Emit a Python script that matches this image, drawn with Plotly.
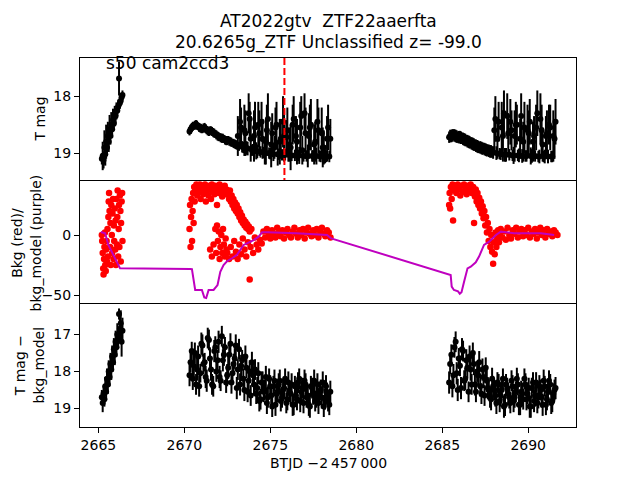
import plotly.graph_objects as go
from plotly.subplots import make_subplots

# ---- light curve (T mag), 3 orbits ----
t1 = [2665.20, 2665.25, 2665.30, 2665.35, 2665.40, 2665.45, 2665.50, 2665.55, 2665.60, 2665.65,
      2665.70, 2665.75, 2665.80, 2665.85, 2665.90, 2665.95, 2666.00, 2666.05, 2666.10, 2666.15,
      2666.20, 2666.25, 2666.30, 2666.35, 2666.40]
mag1 = [19.10, 19.05, 19.12, 18.90, 19.02, 18.80, 18.90, 18.70, 18.80, 18.58,
        18.70, 18.50, 18.58, 18.42, 18.48, 18.35, 18.35, 18.26, 18.25, 18.18,
        17.69, 18.12, 18.08, 18.02, 17.98]
err1 = [0.10, 0.25, 0.15, 0.30, 0.20, 0.30, 0.15, 0.25, 0.18, 0.25,
        0.15, 0.22, 0.15, 0.20, 0.12, 0.18, 0.12, 0.15, 0.10, 0.12,
        0.30, 0.10, 0.10, 0.08, 0.08]
diff1 = [18.70, 18.85, 18.60, 18.75, 18.40, 18.55, 18.20, 18.35, 18.00, 18.15,
         17.80, 17.95, 17.60, 17.75, 17.40, 17.55, 17.20, 17.35, 17.00, 17.10,
         16.45, 16.85, 16.70, 17.20, 16.90]
derr1 = [0.20, 0.25, 0.22, 0.20, 0.25, 0.22, 0.28, 0.25, 0.30, 0.25,
         0.30, 0.28, 0.30, 0.25, 0.30, 0.28, 0.30, 0.25, 0.30, 0.28,
         0.15, 0.30, 0.35, 0.40, 0.35]

t2 = [2670.30, 2670.43, 2670.55, 2670.68, 2670.80, 2670.93, 2671.05, 2671.18, 2671.30, 2671.43,
      2671.55, 2671.68, 2671.80, 2671.93, 2672.05, 2672.18, 2672.30, 2672.43, 2672.55, 2672.68,
      2672.80, 2672.93, 2673.05, 2673.18, 2673.30, 2673.43, 2673.55, 2673.68, 2673.80, 2673.93,
      2674.05, 2674.18, 2674.30, 2674.43, 2674.55, 2674.68, 2674.80, 2674.93, 2675.05, 2675.18,
      2675.30, 2675.43, 2675.55, 2675.68, 2675.80, 2675.93, 2676.05, 2676.18, 2676.30, 2676.43,
      2676.55, 2676.68, 2676.80, 2676.93, 2677.05, 2677.18, 2677.30, 2677.43, 2677.55, 2677.68,
      2677.80, 2677.93, 2678.05, 2678.18, 2678.30, 2678.43]
mag2 = [18.62, 18.55, 18.52, 18.50, 18.53, 18.56, 18.58, 18.55, 18.60, 18.62,
        18.60, 18.64, 18.66, 18.70, 18.72, 18.74, 18.75, 18.78, 18.77, 18.80,
        18.82, 18.84, 18.86, 18.88, 18.55, 18.90, 18.65, 18.92, 18.40, 18.95,
        18.70, 18.96, 18.50, 18.98, 18.75, 19.00, 18.60, 19.00, 18.85, 19.02,
        18.55, 19.02, 18.80, 19.03, 18.70, 18.72, 19.03, 18.90, 18.50, 19.04,
        18.80, 19.04, 18.35, 19.05, 18.65, 19.05, 18.55, 19.05, 18.85, 19.05,
        18.60, 19.06, 18.90, 19.06, 18.75, 19.06]
err2 = [0.07, 0.08, 0.07, 0.08, 0.07, 0.08, 0.07, 0.08, 0.07, 0.08,
        0.07, 0.08, 0.07, 0.08, 0.07, 0.08, 0.07, 0.08, 0.07, 0.08,
        0.07, 0.08, 0.08, 0.08, 0.35, 0.10, 0.40, 0.12, 0.30, 0.10,
        0.45, 0.15, 0.40, 0.10, 0.35, 0.20, 0.45, 0.10, 0.40, 0.12,
        0.35, 0.20, 0.40, 0.10, 0.45, 0.30, 0.12, 0.40, 0.35, 0.10,
        0.40, 0.15, 0.35, 0.10, 0.45, 0.20, 0.40, 0.10, 0.35, 0.15,
        0.40, 0.10, 0.35, 0.12, 0.40, 0.10]
diff2 = [18.10, 17.45, 17.85, 18.35, 17.60, 18.05, 17.30, 17.75, 18.25, 17.15,
         17.95, 18.40, 17.35, 17.70, 18.15, 17.05, 17.55, 18.30, 17.90, 17.25,
         18.05, 17.65, 18.45, 17.40, 17.85, 18.20, 17.60, 18.55, 18.00, 17.75,
         18.35, 18.60, 18.05, 18.75, 18.30, 18.50, 18.85, 18.20, 18.65, 18.40,
         18.90, 18.55, 18.25, 18.70, 18.45, 18.85, 18.30, 18.60, 18.90, 18.40,
         18.75, 18.20, 18.55, 18.85, 18.35, 18.65, 18.95, 18.45, 18.25, 18.70,
         18.85, 18.50, 18.30, 18.75, 18.60, 18.90]
derr2 = [0.30, 0.25, 0.30, 0.28, 0.30, 0.25, 0.30, 0.25, 0.30, 0.28] + \
        [0.30, 0.28] * 28

# second, interleaved cadence of orbit 2
t2b = [2670.36, 2670.49, 2670.61, 2670.74, 2670.86, 2670.99, 2671.11, 2671.24, 2671.36, 2671.49,
       2671.61, 2671.74, 2671.86, 2671.99, 2672.11, 2672.24, 2672.36, 2672.49, 2672.61, 2672.74,
       2672.86, 2672.99, 2673.11, 2673.24, 2673.36, 2673.49, 2673.61, 2673.74, 2673.86, 2673.99,
       2674.11, 2674.24, 2674.36, 2674.49, 2674.61, 2674.74, 2674.86, 2674.99, 2675.11, 2675.24,
       2675.36, 2675.49, 2675.61, 2675.74, 2675.86, 2675.99, 2676.11, 2676.24, 2676.36, 2676.49,
       2676.61, 2676.74, 2676.86, 2676.99, 2677.11, 2677.24, 2677.36, 2677.49, 2677.61, 2677.74,
       2677.86, 2677.99, 2678.11, 2678.24, 2678.36, 2678.49]
mag2b = [18.58, 18.53, 18.51, 18.51, 18.55, 18.57, 18.56, 18.57, 18.61, 18.61,
         18.62, 18.65, 18.68, 18.71, 18.73, 18.74, 18.77, 18.78, 18.79, 18.81,
         18.83, 18.85, 18.70, 18.45, 18.89, 18.60, 18.91, 18.30, 18.75, 18.94,
         18.55, 18.97, 18.65, 18.45, 18.99, 18.80, 18.40, 19.01, 18.65, 18.90,
         18.50, 19.02, 18.75, 18.45, 19.03, 18.60, 18.85, 19.04, 18.40, 18.70,
         19.04, 18.55, 18.95, 18.30, 19.05, 18.70, 18.50, 19.05, 18.80, 18.45,
         19.05, 18.65, 18.90, 19.06, 18.55, 18.75]
err2b = [0.08] * 22 + \
        [0.35, 0.40, 0.10, 0.45, 0.12, 0.35, 0.40, 0.10, 0.45, 0.12,
         0.40, 0.35, 0.10, 0.40, 0.45, 0.10, 0.35, 0.20, 0.40, 0.10,
         0.35, 0.45, 0.10, 0.40, 0.30, 0.10, 0.40, 0.35, 0.10, 0.45,
         0.25, 0.35, 0.10, 0.40, 0.45, 0.10, 0.35, 0.40, 0.10, 0.45,
         0.30, 0.10, 0.40, 0.35]
diff2b = [17.75, 18.20, 17.50, 17.95, 18.40, 17.25, 17.80, 18.15, 17.10, 17.65,
          18.35, 17.45, 18.00, 17.20, 18.25, 17.70, 17.35, 18.10, 17.55, 18.30,
          17.80, 17.30, 17.95, 18.35, 17.70, 18.50, 17.90, 18.25, 18.65, 18.10,
          17.95, 18.45, 18.80, 18.30, 18.55, 18.15, 18.70, 18.40, 18.95, 18.25,
          18.60, 18.35, 18.80, 18.50, 18.20, 18.75, 18.55, 18.35, 18.90, 18.65,
          18.30, 18.80, 18.45, 18.25, 18.70, 18.90, 18.40, 18.60, 18.80, 18.35,
          18.55, 18.70, 18.95, 18.40, 18.80, 18.55]
derr2b = [0.28, 0.30] * 33

t3 = [2685.40, 2685.53, 2685.65, 2685.78, 2685.90, 2686.03, 2686.15, 2686.28, 2686.40, 2686.53,
      2686.65, 2686.78, 2686.90, 2687.03, 2687.15, 2687.28, 2687.40, 2687.53, 2687.65, 2687.78,
      2687.90, 2688.03, 2688.15, 2688.28, 2688.40, 2688.53, 2688.65, 2688.78, 2688.90, 2689.03,
      2689.15, 2689.28, 2689.40, 2689.53, 2689.65, 2689.78, 2689.90, 2690.03, 2690.15, 2690.28,
      2690.40, 2690.53, 2690.65, 2690.78, 2690.90, 2691.03, 2691.15, 2691.28, 2691.40, 2691.53]
mag3 = [18.72, 18.70, 18.68, 18.70, 18.72, 18.72, 18.74, 18.76, 18.78, 18.80,
        18.82, 18.84, 18.86, 18.88, 18.90, 18.91, 18.92, 18.94, 18.95, 18.97,
        18.98, 18.60, 19.00, 18.45, 19.02, 18.70, 19.03, 18.35, 19.03, 18.60,
        19.04, 18.50, 19.04, 18.75, 19.05, 18.55, 19.05, 18.65, 19.05, 18.80,
        19.05, 18.30, 19.06, 18.60, 19.06, 18.70, 19.06, 18.55, 19.06, 18.75]
err3 = [0.10, 0.11, 0.10, 0.11, 0.10, 0.11, 0.10, 0.11, 0.10, 0.11,
        0.10, 0.11, 0.10, 0.11, 0.10, 0.11, 0.10, 0.11, 0.10, 0.11,
        0.10, 0.40, 0.12, 0.35, 0.10, 0.45, 0.12, 0.40, 0.10, 0.35,
        0.15, 0.40, 0.10, 0.35, 0.12, 0.45, 0.10, 0.40, 0.15, 0.35,
        0.10, 0.40, 0.12, 0.45, 0.10, 0.35, 0.12, 0.40, 0.10, 0.35]
diff3 = [18.30, 17.55, 18.10, 17.20, 18.50, 17.85, 17.40, 18.25, 17.70, 18.55,
         17.95, 17.50, 18.35, 18.00, 17.75, 18.60, 18.15, 17.90, 18.45, 18.70,
         18.20, 18.50, 18.85, 18.35, 18.65, 18.20, 18.90, 18.45, 18.70, 18.25,
         18.80, 18.55, 18.35, 18.90, 18.60, 18.20, 18.75, 18.45, 18.95, 18.30,
         18.65, 18.85, 18.40, 18.70, 18.25, 18.90, 18.55, 18.35, 18.80, 18.50]
derr3 = [0.30, 0.28] * 25

# second, interleaved cadence of orbit 3
t3b = [2685.46, 2685.59, 2685.71, 2685.84, 2685.96, 2686.09, 2686.21, 2686.34, 2686.46, 2686.59,
       2686.71, 2686.84, 2686.96, 2687.09, 2687.21, 2687.34, 2687.46, 2687.59, 2687.71, 2687.84,
       2687.96, 2688.09, 2688.21, 2688.34, 2688.46, 2688.59, 2688.71, 2688.84, 2688.96, 2689.09,
       2689.21, 2689.34, 2689.46, 2689.59, 2689.71, 2689.84, 2689.96, 2690.09, 2690.21, 2690.34,
       2690.46, 2690.59, 2690.71, 2690.84, 2690.96, 2691.09, 2691.21, 2691.34, 2691.46, 2691.59]
mag3b = [18.70, 18.69, 18.69, 18.71, 18.72, 18.73, 18.75, 18.77, 18.79, 18.81,
         18.83, 18.85, 18.87, 18.89, 18.90, 18.92, 18.93, 18.95, 18.96, 18.97,
         18.99, 18.40, 18.75, 19.01, 18.55, 18.30, 19.03, 18.65, 18.45, 19.04,
         18.70, 18.50, 19.04, 18.35, 18.80, 19.05, 18.60, 18.45, 19.05, 18.70,
         18.55, 19.06, 18.40, 18.85, 19.06, 18.65, 18.50, 19.06, 18.70, 18.45]
err3b = [0.11] * 21 + \
        [0.40, 0.35, 0.10, 0.45, 0.40, 0.12, 0.35, 0.40, 0.10, 0.45,
         0.35, 0.12, 0.40, 0.35, 0.10, 0.45, 0.40, 0.12, 0.35, 0.40,
         0.10, 0.45, 0.30, 0.12, 0.40, 0.35, 0.10, 0.45, 0.40]
diff3b = [17.80, 18.40, 17.35, 18.05, 17.65, 18.45, 17.45, 18.20, 17.90, 17.60,
          18.35, 17.80, 18.55, 18.10, 18.40, 17.95, 18.65, 18.25, 18.50, 18.75,
          18.40, 18.65, 18.30, 18.80, 18.50, 18.95, 18.35, 18.60, 18.85, 18.40,
          18.70, 18.20, 18.90, 18.55, 18.75, 18.35, 18.60, 18.95, 18.45, 18.80,
          18.30, 18.70, 18.50, 18.90, 18.40, 18.75, 18.25, 18.85, 18.60, 18.45]
derr3b = [0.28, 0.30] * 25

# ---- background (red points) ----
bkg_t = [2665.20, 2665.22, 2665.25, 2665.28, 2665.30, 2665.33, 2665.35, 2665.38, 2665.40, 2665.43,
         2665.45, 2665.48, 2665.50, 2665.53, 2665.55, 2665.58, 2665.60, 2665.62, 2665.65, 2665.68,
         2665.70, 2665.72, 2665.75, 2665.78, 2665.80, 2665.82, 2665.85, 2665.88, 2665.90, 2665.92,
         2665.95, 2665.98, 2666.00, 2666.02, 2666.05, 2666.08, 2666.10, 2666.12, 2666.15, 2666.18,
         2666.20, 2666.22, 2666.25, 2666.28, 2666.30, 2666.32, 2666.35, 2666.38, 2666.40,
         2670.30, 2670.33, 2670.36, 2670.39, 2670.42, 2670.45, 2670.48, 2670.51, 2670.54, 2670.57,
         2670.60, 2670.65, 2670.70, 2670.75, 2670.80, 2670.85, 2670.90, 2670.95, 2671.00, 2671.05,
         2671.10, 2671.15, 2671.20, 2671.25, 2671.30, 2671.35, 2671.40, 2671.45, 2671.50, 2671.55,
         2671.60, 2671.65, 2671.70, 2671.75, 2671.80, 2671.85, 2671.90, 2671.95, 2672.00, 2672.05,
         2672.10, 2672.15, 2672.20, 2672.25, 2672.30, 2672.35, 2672.40, 2672.45,
         2671.50, 2671.60, 2671.70, 2671.80, 2671.85, 2671.90, 2671.95, 2672.00, 2672.05, 2672.10,
         2672.15, 2672.20, 2672.25, 2672.30, 2672.35, 2672.40, 2672.45,
         2672.55, 2672.60, 2672.65, 2672.70, 2672.75, 2672.80, 2672.85, 2672.90, 2672.95, 2673.00,
         2673.05, 2673.10, 2673.15, 2673.20, 2673.25, 2673.30, 2673.35, 2673.40, 2673.45, 2673.50,
         2673.55, 2673.60, 2673.65, 2673.70, 2673.75, 2673.80, 2673.90,
         2672.50, 2672.60, 2672.70, 2672.80, 2672.90, 2673.00, 2673.10, 2673.20, 2673.30, 2673.40,
         2673.50, 2673.60, 2673.70, 2673.80, 2673.85, 2674.00, 2674.10, 2674.20, 2674.30, 2674.40,
         2674.50,
         2674.60, 2674.70, 2674.80, 2674.90, 2675.00, 2675.10, 2675.20, 2675.30, 2675.40, 2675.50,
         2675.60, 2675.70, 2675.80, 2675.90, 2676.00, 2676.10, 2676.20, 2676.30, 2676.40, 2676.50,
         2676.60, 2676.70, 2676.80, 2676.90, 2677.00, 2677.10, 2677.20, 2677.30, 2677.40, 2677.50,
         2677.60, 2677.70, 2677.80, 2677.90, 2678.00, 2678.10, 2678.20, 2678.30, 2678.40, 2678.50,
         2685.40, 2685.43, 2685.46, 2685.50, 2685.55, 2685.60, 2685.63, 2685.68, 2685.75, 2685.82,
         2685.90, 2685.97, 2686.05, 2686.12, 2686.20, 2686.27, 2686.35, 2686.42, 2686.50, 2686.57,
         2686.65, 2686.72, 2686.80, 2686.85, 2686.90, 2686.95, 2687.00, 2687.05, 2687.10, 2687.15,
         2687.20, 2687.25, 2687.30, 2687.35, 2687.40, 2687.45, 2687.50, 2687.55, 2687.60, 2687.65,
         2687.70, 2687.75, 2687.80, 2687.85, 2687.90, 2687.96, 2688.00, 2688.05, 2688.10, 2688.15,
         2688.20, 2688.25, 2688.30, 2688.35,
         2688.40, 2688.50, 2688.60, 2688.70, 2688.80, 2688.90, 2689.00, 2689.10, 2689.20, 2689.30,
         2689.40, 2689.50, 2689.60, 2689.70, 2689.80, 2689.90, 2690.00, 2690.10, 2690.20, 2690.30,
         2690.40, 2690.50, 2690.60, 2690.70, 2690.80, 2690.90, 2691.00, 2691.10, 2691.20, 2691.30,
         2691.40, 2691.50, 2691.60, 2691.70]
bkg = [0, -5, -15, -28, -33, -20, -10, 2, -25, -30,
       -12, -5, -22, 5, -18, 15, 28, 35, 20, -10,
       10, -25, 25, 0, -15, 18, 30, -20, 8, -5,
       22, -12, 12, -25, 30, -8, 15, 37, -18, 5,
       25, -10, 33, 20, -22, 10, 28, 35, -5,
       5, 25, -10, 15, 30, -5, 20, 35, 10, 40,
       28, 38, 42, 33, 40, 36, 42, 30, 38, 41,
       34, 39, 42, 28, 36, 40, 33, 41, 38, 30,
       42, 36, 40, 34, 41, 38, 25, 40, 35, 42,
       37, 40, 32, 39, 36, 41, 34, 38,
       -12, -18, -8, 5, -15, 8, -5, 3, -20, -10,
       0, -15, 5, -8, -18, -3, -12,
       35, 30, 37, 28, 33, 25, 30, 22, 27, 20,
       25, 18, 22, 15, 19, 12, 16, 10, 13, 8,
       11, 6, 9, 5, 7, 3, 5,
       -15, -20, -10, -18, -5, -14, -20, -8, -16, -3,
       -12, -18, -6, -37, -10, -15, -2, -8, -12, -4,
       -7,
       3, -2, 5, 0, -3, 4, 1, -2, 6, 2,
       -1, 4, -3, 2, 5, 0, -2, 3, 6, 1,
       -2, 4, 0, 5, -3, 2, 6, 1, -1, 4,
       0, 5, -2, 3, 6, 1, -1, 4, 2, -2,
       25, 35, 22, 40, 30, 42, 12, 37, 41, 35,
       42, 38, 33, 41, 36, 42, 39, 34, 41, 37,
       42, 35, 40, 10, 32, 38, 28, 35, 25, 31,
       22, 28, 18, 24, 14, 20, 8, 15, 2, 10,
       -5, 5, -10, 0, -14, -24, -6, -16, 2, -10,
       -3, 4, -6, 1,
       5, -2, 3, -4, 6, 0, -3, 4, 1, 6,
       -2, 3, 5, -1, 4, 0, 6, -2, 3, 1,
       5, -3, 2, 6, 0, 4, -2, 5, 1, 3,
       -1, 4, 2, 0]

# ---- background model (purple line) ----
model_t = [2665.14, 2665.39, 2665.58, 2665.87, 2666.07, 2666.26, 2670.34, 2670.44, 2670.63, 2671.02,
           2671.16, 2671.27, 2671.41, 2671.70, 2671.93, 2672.09, 2672.28, 2672.48, 2672.77, 2673.06,
           2673.25, 2673.45, 2673.64, 2674.03, 2674.32, 2674.52, 2674.81, 2676.50, 2678.30, 2678.54,
           2685.49, 2685.55, 2685.68, 2685.92, 2686.02, 2686.12, 2686.27, 2686.47, 2686.66, 2686.95,
           2687.14, 2687.43, 2687.73, 2688.12, 2688.41, 2689.18, 2690.74, 2691.51]
model = [2.5, 1.4, -8.3, -16.6, -23.6, -27.8, -28.3, -28.5, -45.8, -45.8,
         -52.0, -52.5, -45.8, -45.8, -41.7, -30.6, -25.0, -21.9, -19.4, -16.6,
         -12.5, -8.3, -6.9, -4.2, -1.4, 2.2, 2.2, 1.5, 0.0, -2.8,
         -33.3, -43.0, -45.8, -47.0, -49.0, -47.7, -38.9, -27.8, -26.4, -22.8,
         -18.0, -8.3, -5.6, 0.0, 2.8, 1.4, 1.4, 0.0]

xr = [2663.93, 2692.78]
t_mark = 2675.82

fig = make_subplots(rows=3, cols=1, shared_xaxes=True, vertical_spacing=0)

eb = dict(type='data', thickness=2, width=0, color='black')
mk = dict(color='black', size=6)

top = [(t1, mag1, err1), (t2, mag2, err2), (t2b, mag2b, err2b), (t3, mag3, err3), (t3b, mag3b, err3b)]
for t, m, e in top:
    fig.add_trace(go.Scatter(x=t, y=m, mode='markers', marker=mk,
                             error_y=dict(eb, array=e)), row=1, col=1)

fig.add_trace(go.Scatter(x=bkg_t, y=bkg, mode='markers',
                         marker=dict(color='red', size=6.5)), row=2, col=1)
fig.add_trace(go.Scatter(x=model_t, y=model, mode='lines',
                         line=dict(color='#bf00bf', width=2)), row=2, col=1)

bottom = [(t1, diff1, derr1), (t2, diff2, derr2), (t2b, diff2b, derr2b),
          (t3, diff3, derr3), (t3b, diff3b, derr3b)]
for t, m, e in bottom:
    fig.add_trace(go.Scatter(x=t, y=m, mode='markers', marker=mk,
                             error_y=dict(eb, array=e)), row=3, col=1)

# red dashed marker line in the top panel
fig.add_trace(go.Scatter(x=[t_mark, t_mark], y=[17.33, 19.49], mode='lines',
                         line=dict(color='red', width=2, dash='7px,3px')), row=1, col=1)

ax = dict(showline=True, mirror=True, linecolor='black', linewidth=1,
          showgrid=False, zeroline=False, ticks='outside', ticklen=5,
          tickcolor='black', tickfont=dict(size=14, color='black'))
fig.update_xaxes(ax, range=xr)
# upper panels: only draw the top edge so shared borders are single lines
fig.update_xaxes(ticks='', side='top', mirror=False, row=1, col=1)
fig.update_xaxes(ticks='', side='top', mirror=False, row=2, col=1)
fig.update_xaxes(tickvals=[2665, 2670, 2675, 2680, 2685, 2690], row=3, col=1)
fig.update_yaxes(ax)
fig.update_yaxes(range=[19.49, 17.33], tickvals=[18, 19], row=1, col=1)
fig.update_yaxes(range=[-57.5, 45], tickvals=[-50, 0], ticktext=['\u221250', '0'], row=2, col=1)
fig.update_yaxes(range=[19.5, 16.18], tickvals=[17, 18, 19], row=3, col=1)

f = dict(family='DejaVu Sans', color='black')
ann = [
    dict(text='AT2022gtv\u00a0 ZTF22aaerfta', x=0.5, y=1.1003, font=dict(f, size=17)),
    dict(text='20.6265g_ZTF Unclassified z= -99.0', x=0.5, y=1.0407, font=dict(f, size=17)),
    dict(text='T mag', x=-0.0806, y=5 / 6, textangle=-90, font=dict(f, size=14)),
    dict(text='Bkg (red)/<br>bkg_model (purple)', x=-0.109, y=0.5, textangle=-90,
         font=dict(f, size=14)),
    dict(text='T mag \u2212<br>bkg_model', x=-0.103, y=1 / 6, textangle=-90, font=dict(f, size=14)),
    dict(text='BTJD \u22122\u2009457\u2009000', x=0.5, y=-0.0976, font=dict(f, size=14)),
]
for a in ann:
    fig.add_annotation(a, xref='paper', yref='paper', showarrow=False,
                       xanchor='center', yanchor='middle')
fig.add_annotation(text='s50 cam2ccd3', xref='x', x=2665.30, yref='paper', y=0.9864,
                   xanchor='left', yanchor='middle', showarrow=False, font=dict(f, size=17))

fig.update_layout(width=640, height=480, showlegend=False,
                  margin=dict(l=80, r=64, t=58, b=53, autoexpand=False),
                  paper_bgcolor='white', plot_bgcolor='white',
                  font=dict(family='DejaVu Sans', color='black'))

# page body has a default 8px margin; drop it so the figure sits at the window origin
fig.write_html("out.html", config={'displayModeBar': False},
               post_script="document.body.style.margin='0';")
